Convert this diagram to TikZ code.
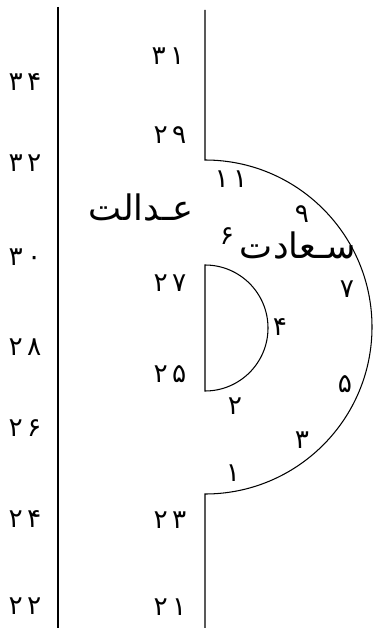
\documentclass[tikz,border=0pt]{standalone}
\usepackage{fontspec}
\newfontfamily\arabicfont[Script=Arabic]{DejaVu Sans}
\TeXXeTstate=1
\usetikzlibrary{positioning}

\begin{document}
\begin{tikzpicture}[
    x=0.02cm, y=0.02cm,
    num/.style={font=\arabicfont\fontsize{15}{17}\selectfont, inner sep=0pt},
    word/.style={font=\arabicfont\fontsize{20}{24}\selectfont, inner sep=0pt},
    wall/.style={line width=0.6pt}
]
    \useasboundingbox (0,0) rectangle (374,-628);

    % Walls
    \coordinate (ltop) at (58,-7);
    \coordinate (lbot) at (58,-628);
    \coordinate (rtop) at (205,-10);
    \coordinate (rbot) at (205,-628);
    \coordinate (bigA) at (205,-160);
    \coordinate (smallA) at (205,-265);

    \draw[wall] (ltop) -- (lbot);
    \draw[wall] (rtop) -- (bigA) arc[start angle=90, end angle=-90, radius=167] -- (rbot);
    \draw[wall] (smallA) arc[start angle=90, end angle=-90, radius=63] -- cycle;

    % Left column
    \node[num] (n34) at (25,-82) {۳\,۴};
    \node[num] (n32) at (25,-163) {۳\,۲};
    \node[num] (n30) at (25,-257) {۳\,۰};
    \node[num] (n28) at (25,-347) {۲\,۸};
    \node[num] (n26) at (25,-428) {۲\,۶};
    \node[num] (n24) at (25,-519) {۲\,۴};
    \node[num] (n22) at (25,-606) {۲\,۲};

    % Middle column
    \node[num] (n31) at (168,-56) {۳\,۱};
    \node[num] (n29) at (170,-135) {۲\,۹};
    \node[num] (n27) at (170,-283) {۲\,۷};
    \node[num] (n25) at (170,-374) {۲\,۵};
    \node[num] (n23) at (170,-520) {۲\,۳};
    \node[num] (n21) at (170,-607) {۲\,۱};

    % Around the arcs
    \node[num] (n11) at (231,-179) {۱\,۱};
    \node[num] (n9) at (302,-214) {۹};
    \node[num] (n6) at (227,-236) {۶};
    \node[num] (n7) at (347,-289) {۷};
    \node[num] (n4) at (280,-327) {۴};
    \node[num] (n5) at (345,-384) {۵};
    \node[num] (n2) at (235,-406) {۲};
    \node[num] (n3) at (302,-440) {۳};
    \node[num] (n1) at (233,-473) {۱};

    % Words
    \node[word] (adalat) at (141,-207) {\beginR عـدالت\endR};
    \node[word] (saadat) at (298,-245) {\beginR سـعادت\endR};
\end{tikzpicture}
\end{document}
